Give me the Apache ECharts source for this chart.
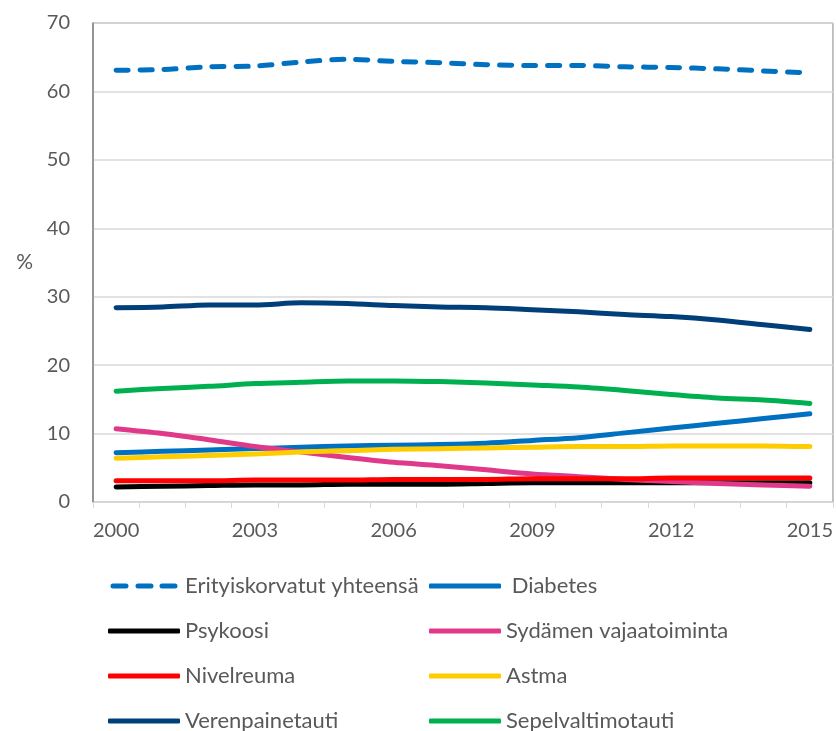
<!DOCTYPE html>
<html>
<head>
<meta charset="utf-8">
<script src="https://cdn.jsdelivr.net/npm/echarts@6/dist/echarts.min.js"></script>
<style>
  html, body { margin: 0; padding: 0; background: #fff; }
  #chart { width: 836px; height: 731px; }
</style>
</head>
<body>
<div id="chart"></div>
<script>
const years = ['2000', '2001', '2002', '2003', '2004', '2005', '2006', '2007',
  '2008', '2009', '2010', '2011', '2012', '2013', '2014', '2015']

const erityiskorvatut = [63.1, 63.2, 63.6, 63.7, 64.3, 64.7, 64.4, 64.2, 63.9, 63.8, 63.8, 63.6, 63.5, 63.3, 63.0, 62.7]
const diabetes = [7.2, 7.4, 7.6, 7.8, 8.0, 8.2, 8.3, 8.4, 8.6, 9.0, 9.4, 10.1, 10.8, 11.5, 12.2, 12.9]
const psykoosi = [2.2, 2.3, 2.4, 2.5, 2.5, 2.6, 2.6, 2.6, 2.7, 2.8, 2.8, 2.8, 2.8, 2.8, 2.8, 2.8]
const sydamen = [10.7, 10.0, 9.1, 8.1, 7.3, 6.5, 5.8, 5.3, 4.7, 4.1, 3.7, 3.3, 3.0, 2.7, 2.5, 2.3]
const nivelreuma = [3.1, 3.1, 3.1, 3.2, 3.2, 3.2, 3.3, 3.3, 3.3, 3.4, 3.4, 3.4, 3.5, 3.5, 3.5, 3.5]
const astma = [6.4, 6.6, 6.8, 7.0, 7.3, 7.5, 7.7, 7.8, 7.9, 8.0, 8.1, 8.1, 8.2, 8.2, 8.2, 8.1]
const verenpaine = [28.4, 28.5, 28.8, 28.8, 29.1, 29.0, 28.7, 28.5, 28.4, 28.1, 27.8, 27.4, 27.1, 26.6, 25.9, 25.2]
const sepelvaltimo = [16.2, 16.6, 16.9, 17.3, 17.5, 17.7, 17.7, 17.6, 17.4, 17.1, 16.8, 16.3, 15.7, 15.2, 14.9, 14.4]

const yTicks = [0, 10, 20, 30, 40, 50, 60, 70]

const seriesDefs = [
  { name: 'Erityiskorvatut yhteensä', data: erityiskorvatut, color: '#0070C0', dashed: true },
  { name: 'Diabetes', data: diabetes, color: '#0070C0' },
  { name: 'Psykoosi', data: psykoosi, color: '#000000' },
  { name: 'Sydämen vajaatoiminta', data: sydamen, color: '#E0398A' },
  { name: 'Nivelreuma', data: nivelreuma, color: '#FF0000' },
  { name: 'Astma', data: astma, color: '#FFCC00' },
  { name: 'Verenpainetauti', data: verenpaine, color: '#003F7A' },
  { name: 'Sepelvaltimotauti', data: sepelvaltimo, color: '#00B050' },
]

const font = 'Lato, "Noto Sans", sans-serif'
const legendText = { fontFamily: font, fontSize: 22, color: '#595959', lineHeight: 24 }

// rounded dashes for the legend entry of the dashed series
const dash = (x) => `M${x + 2.5},0h13a2.5,2.5 0 0 1 0,5h-13a2.5,2.5 0 0 1 0,-5z`
const dashIcon = 'path://' + dash(0) + dash(25) + dash(49)

function legendItem(name) {
  const s = seriesDefs.find((d) => d.name === name)
  return { name, icon: s.dashed ? dashIcon : 'roundRect' }
}

const leftLegend = ['Erityiskorvatut yhteensä', 'Psykoosi', 'Nivelreuma', 'Verenpainetauti']
const rightLegend = ['Diabetes', 'Sydämen vajaatoiminta', 'Astma', 'Sepelvaltimotauti']

const chart = echarts.init(document.getElementById('chart'), null, { renderer: 'canvas' })

chart.setOption({
  animation: false,
  grid: {
    left: 93, right: 2, top: 23, bottom: 229,
    show: true, borderColor: '#868686', borderWidth: 1,
  },
  legend: [
    {
      orient: 'vertical', left: 103, top: 569, height: 170,
      itemWidth: 72, itemHeight: 5, itemGap: 21,
      textStyle: legendText,
      data: leftLegend.map(legendItem),
    },
    {
      orient: 'vertical', left: 424, top: 569, height: 170,
      itemWidth: 72, itemHeight: 5, itemGap: 21,
      textStyle: legendText,
      formatter: (n) => (n === 'Diabetes' ? ' Diabetes' : n),
      data: rightLegend.map(legendItem),
    },
  ],
  xAxis: {
    type: 'category',
    data: years,
    boundaryGap: true,
    axisLine: { lineStyle: { color: '#D9D9D9', width: 1 } },
    axisTick: { show: true, interval: 0, length: 6, lineStyle: { color: '#D9D9D9' } },
    axisLabel: { interval: 2, margin: 19, color: '#595959', fontFamily: font, fontSize: 20 },
    splitLine: { show: false },
  },
  yAxis: {
    type: 'value',
    min: yTicks[0], max: yTicks[yTicks.length - 1], interval: 10,
    name: '%', nameLocation: 'middle', nameRotate: 0, nameGap: 60,
    nameTextStyle: { color: '#595959', fontFamily: font, fontSize: 21 },
    axisLine: { show: true, lineStyle: { color: '#868686', width: 1.5 } },
    axisTick: { show: false },
    axisLabel: { margin: 23, color: '#595959', fontFamily: font, fontSize: 20 },
    splitLine: { lineStyle: { color: '#D9D9D9', width: 1.5 } },
  },
  series: seriesDefs.map((s) => ({
    name: s.name,
    type: 'line',
    data: s.data,
    smooth: 0.3,
    symbol: 'none',
    showSymbol: false,
    color: s.color,
    lineStyle: {
      color: s.color,
      width: 5,
      cap: 'round',
      join: 'round',
      type: s.dashed ? [12, 12] : 'solid',
    },
  })),
})
</script>
</body>
</html>
